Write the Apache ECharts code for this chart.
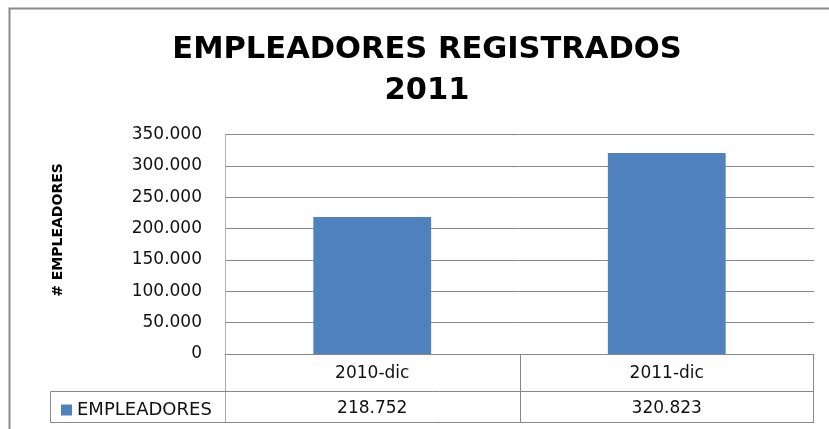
<!DOCTYPE html>
<html>
<head>
<meta charset="utf-8">
<script src="https://cdn.jsdelivr.net/npm/echarts@6/dist/echarts.min.js"></script>
<style>
  html, body { margin: 0; padding: 0; background: #fff; }
  #chart { width: 829px; height: 429px; }
</style>
</head>
<body>
<div id="chart"></div>
<script>
// Employer counts at the December close of each year
const categories = ['2010-dic', '2011-dic'];
const empleadores = [218752, 320823];
const seriesName = 'EMPLEADORES';
const titleLines = ['EMPLEADORES REGISTRADOS', '2011'];
const yAxisTitle = '# EMPLEADORES';
const yMin = 0, yMax = 350000, yStep = 50000;

const FONT = 'DejaVu Sans';
const LINE = '#878787';
const BAR = '#4F81BD';

// Spanish-style thousands separator
function fmt(v) {
  return String(v).replace(/\B(?=(\d{3})+(?!\d))/g, '.');
}

const grid = { left: 225, right: 15, top: 134.7, bottom: 75 };

const chart = echarts.init(document.getElementById('chart'), null, { renderer: 'canvas' });

chart.setOption({
  animation: false,
  backgroundColor: '#fff',
  title: {
    text: titleLines.join('\n'),
    left: 422,
    textAlign: 'center',
    top: 25,
    textStyle: {
      fontFamily: FONT, fontWeight: 'bold', fontSize: 30.5,
      lineHeight: 41, color: '#000'
    }
  },
  legend: {
    data: [seriesName],
    left: 56,
    top: 396,
    itemWidth: 11,
    itemHeight: 11,
    itemGap: 5,
    icon: 'rect',
    selectedMode: false,
    textStyle: { fontFamily: FONT, fontSize: 18, color: '#111' }
  },
  grid: grid,
  xAxis: {
    type: 'category',
    data: categories,
    axisLine: { show: true, lineStyle: { color: LINE, width: 1 } },
    axisTick: { show: false },
    axisLabel: { margin: 11, fontFamily: FONT, fontSize: 17, color: '#111' },
    splitLine: { show: false }
  },
  yAxis: {
    type: 'value',
    min: yMin, max: yMax, interval: yStep,
    axisLine: { show: true, lineStyle: { color: '#b4b4b4', width: 1 } },
    axisTick: { show: false },
    axisLabel: {
      margin: 23, fontFamily: FONT, fontSize: 17, color: '#111',
      formatter: v => fmt(v)
    },
    splitLine: { show: true, lineStyle: { color: LINE, width: 1 } }
  },
  series: [{
    name: seriesName,
    type: 'bar',
    data: empleadores,
    barCategoryGap: '60%',
    itemStyle: { color: BAR }
  }]
});

// Data table under the plot, chart-area frame and rotated axis title
function drawExtras() {
  const W = chart.getWidth(), H = chart.getHeight();
  const gl = grid.left, gr = W - grid.right;
  const gb = H - grid.bottom;           // x axis line
  const rowMid = 391.5, rowBot = 422.5;
  const legendLeft = 50.5;
  const midX = Math.round((gl + gr) / 2) + 0.5;
  const els = [];
  const seg = (x1, y1, x2, y2, c) => els.push({
    type: 'line', silent: true,
    shape: { x1, y1, x2, y2 },
    style: { stroke: c || LINE, lineWidth: 1 }
  });
  // table grid
  seg(gl + 0.5, gb, gl + 0.5, rowBot, '#a8a8a8');
  seg(midX, gb, midX, rowBot);
  seg(gr - 0.5, gb, gr - 0.5, rowBot);
  seg(legendLeft, rowMid, gr, rowMid);
  seg(legendLeft, rowBot, gr, rowBot);
  seg(legendLeft, rowMid, legendLeft, rowBot);
  // value row, one cell per category
  categories.forEach((c, i) => {
    const x = chart.convertToPixel({ xAxisIndex: 0 }, c);
    els.push({
      type: 'text', silent: true,
      x: x, y: (rowMid + rowBot) / 2 + 1.5,
      style: {
        text: fmt(empleadores[i]), fontFamily: FONT, fontSize: 17,
        fill: '#111', align: 'center', verticalAlign: 'middle'
      }
    });
  });
  // rotated y axis title
  els.push({
    type: 'text', silent: true,
    x: 58, y: 230, rotation: Math.PI / 2,
    style: {
      text: yAxisTitle, fontFamily: FONT, fontWeight: 'bold', fontSize: 14,
      fill: '#000', align: 'center', verticalAlign: 'middle'
    }
  });
  // chart area frame
  els.push({
    type: 'rect', silent: true,
    shape: { x: 9.5, y: 8.5, width: W + 20, height: H + 20 },
    style: { fill: 'none', stroke: '#8a8a8a', lineWidth: 2 }
  });
  chart.setOption({ graphic: els });
}
drawExtras();
</script>
</body>
</html>
